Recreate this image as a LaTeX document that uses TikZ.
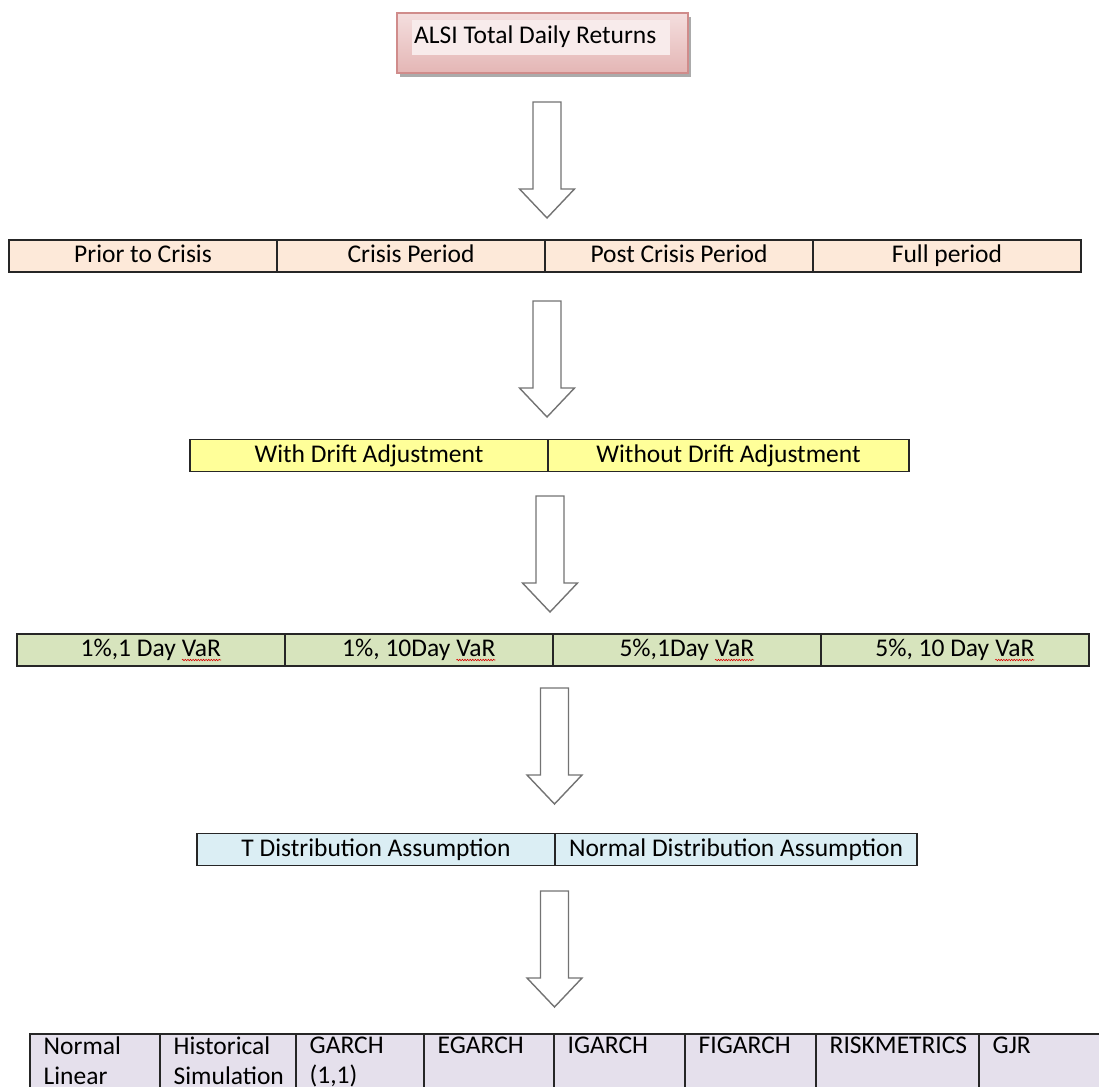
\documentclass[tikz,border=0pt]{standalone}
\usepackage{fontspec}
\setmainfont{Carlito}
\usetikzlibrary{positioning, shadows, decorations.pathmorphing}

\definecolor{peach}{HTML}{FDE9D9}
\definecolor{paleyellow}{HTML}{FFFF99}
\definecolor{palegreen}{HTML}{D7E4BD}
\definecolor{paleblue}{HTML}{DBEEF4}
\definecolor{palelilac}{HTML}{E5E0EC}
\definecolor{rosetop}{HTML}{F4DEDE}
\definecolor{rosebottom}{HTML}{E4B6B5}
\definecolor{roseline}{HTML}{D08C8B}

% red spell-check squiggle under a word
\newcommand{\wavyword}[1]{\tikz[baseline=(w.base)]{%
  \node[inner sep=0pt, outer sep=0pt, minimum width=0pt, minimum height=0pt,
        text height=, text depth=, anchor=base, draw=none, fill=none] (w) {#1};
  \draw[red!85!black, line width=0.6pt, decorate,
        decoration={snake, amplitude=0.7pt, segment length=2.6pt}]
    ([yshift=-3.5pt]w.base west) -- ([yshift=-3.5pt]w.base east);}}

\tikzset{
  textfont/.style={font=\fontsize{25.5pt}{30pt}\selectfont},
  cellbox/.style={draw=black!85, line width=1.3pt, outer sep=0pt,
    inner sep=0pt, minimum height=32pt, text height=18pt, text depth=5pt,
    textfont},
  blockarrow/.style={draw=black!55, line width=1.4pt, fill=white,
    line join=miter},
  downarrow/.pic={
    \draw[blockarrow] (-14,0) -- (-14,87) -- (-27.5,87) -- (0,116)
      -- (27.5,87) -- (14,87) -- (14,0) -- cycle;
  }
}

\begin{document}
\begin{tikzpicture}[x=1pt, y=-1pt]
  \useasboundingbox (0,0) rectangle (1099,1086);

  % source data
  \node[draw=roseline, line width=1.2pt, top color=rosetop,
        bottom color=rosebottom, minimum width=291pt, minimum height=60pt,
        anchor=north west, outer sep=0pt,
        drop shadow={shadow xshift=3pt, shadow yshift=-4pt,
                     fill=black!55, opacity=0.6}]
    (alsi) at (397,13) {};
  \fill[rosetop!60] (412,20) rectangle (670,55);
  \node[textfont, inner sep=0pt, anchor=base west]
    (alsitxt) at (414,44) {ALSI Total Daily Returns};

  \pic (arr1) at (547,102) {downarrow};

  % sample periods
  \node[cellbox, fill=peach, minimum width=268pt, anchor=west]
    (prior) at (9,256) {Prior to Crisis};
  \node[cellbox, fill=peach, minimum width=268pt, right=0pt of prior]
    (crisis) {Crisis Period};
  \node[cellbox, fill=peach, minimum width=268pt, right=0pt of crisis]
    (post) {Post Crisis Period};
  \node[cellbox, fill=peach, minimum width=268pt, right=0pt of post]
    (full) {Full period};

  \pic (arr2) at (547,301) {downarrow};

  % drift
  \node[cellbox, fill=paleyellow, minimum width=358pt, anchor=west]
    (drift) at (190,455.5) {With Drift Adjustment};
  \node[cellbox, fill=paleyellow, minimum width=361pt, right=0pt of drift]
    (nodrift) {Without Drift Adjustment};

  \pic (arr3) at (550,496) {downarrow};

  % VaR horizons
  \node[cellbox, fill=palegreen, minimum width=268pt, anchor=west]
    (varA) at (17,650) {1\%,1 Day \wavyword{VaR}};
  \node[cellbox, fill=palegreen, minimum width=268pt, right=0pt of varA]
    (varB) {1\%, 10Day \wavyword{VaR}};
  \node[cellbox, fill=palegreen, minimum width=268pt, right=0pt of varB]
    (varC) {5\%,1Day \wavyword{VaR}};
  \node[cellbox, fill=palegreen, minimum width=268pt, right=0pt of varC]
    (varD) {5\%, 10 Day \wavyword{VaR}};

  \pic (arr4) at (554.5,688) {downarrow};

  % distributions
  \node[cellbox, fill=paleblue, minimum width=358pt, anchor=west]
    (tdist) at (197,849.5) {T Distribution Assumption};
  \node[cellbox, fill=paleblue, minimum width=362pt, right=0pt of tdist]
    (ndist) {Normal Distribution Assumption};

  \pic (arr5) at (554.5,891) {downarrow};

  % models
  \foreach \x/\w/\txt [count=\i] in {
      30/130/{Normal\\Linear}, 160/136/{Historical\\Simulation},
      296/128/{GARCH\\(1,1)}, 424/130/{EGARCH}, 554/131/{IGARCH},
      685/131/{FIGARCH}, 816/163/{RISKMETRICS}, 979/130/{GJR}} {
    \node[draw=black!85, line width=1.3pt, fill=palelilac, outer sep=0pt,
          minimum width=\w pt, minimum height=90pt, anchor=north west]
      (m\i) at (\x,1034) {};
    \node[textfont, align=left, inner sep=0pt, anchor=north west]
      (m\i txt) at ([xshift=13.5pt, yshift=-3pt]m\i.north west) {\txt};
  }
\end{tikzpicture}
\end{document}
